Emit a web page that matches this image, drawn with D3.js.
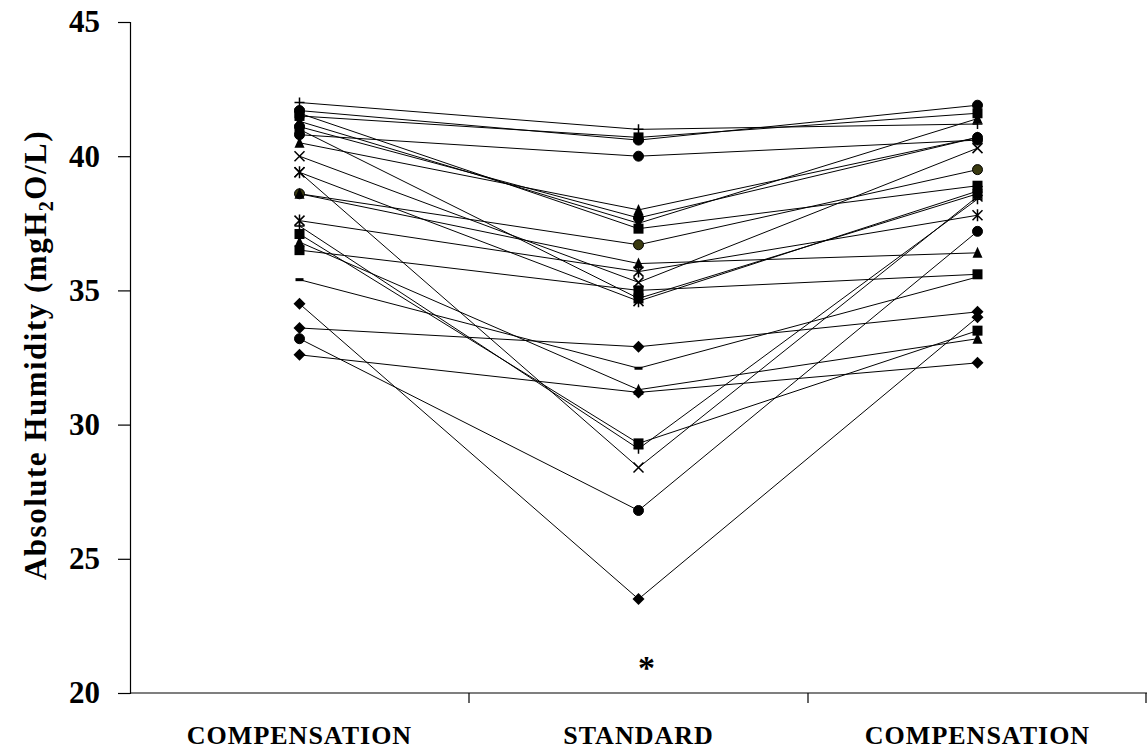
<!DOCTYPE html>
<html>
<head>
<meta charset="utf-8">
<script src="https://cdn.jsdelivr.net/npm/d3@7"></script>
<style>
  body { margin: 0; background: #fff; }
  text { font-family: "Liberation Serif", "Times New Roman", serif; font-weight: bold; }
</style>
</head>
<body>
<svg id="chart" width="1148" height="755"></svg>
<script>
// categories along x
const categories = ['COMPENSATION', 'STANDARD', 'COMPENSATION'];
const yTicks = [20, 25, 30, 35, 40, 45];

// one entry per subject: value in each phase
const compensationBefore = [42.0, 41.7, 41.5, 41.3, 41.1, 40.8, 40.5, 40.0, 39.4, 39.4, 38.6, 41.6, 37.6, 37.4, 37.1, 36.8, 36.5, 35.4, 34.5, 33.6, 33.2, 32.6, 38.6, 41.0];
const standard           = [41.0, 40.6, 40.7, 37.5, 37.7, 40.0, 38.0, 35.3, 28.4, 34.6, 36.7, 37.3, 35.7, 29.1, 29.3, 31.3, 35.0, 32.1, 23.5, 32.9, 26.8, 31.2, 36.0, 34.7];
const compensationAfter  = [41.2, 41.9, 41.6, 41.4, 40.7, 40.6, 40.7, 40.3, 38.5, 38.7, 39.5, 38.9, 37.8, 38.4, 33.5, 33.2, 35.6, 35.5, 34.0, 34.2, 37.2, 32.3, 36.4, 38.6];
const markers            = ['plus', 'circle', 'square', 'triangle', 'circle', 'circle', 'triangle', 'cross', 'cross', 'star', 'circle', 'square', 'star', 'plus', 'square', 'triangle', 'square', 'dash', 'diamond', 'diamond', 'circle', 'diamond', 'triangle', 'square'];
const markerColors       = ['#000', '#000', '#000', '#000', '#000', '#000', '#000', '#000', '#000', '#000', '#3a3a10', '#000', '#000', '#000', '#000', '#000', '#000', '#000', '#000', '#000', '#000', '#000', '#000', '#000'];

const svg = d3.select('#chart');
const margin = { top: 22, right: 1, bottom: 62, left: 130 };
const width = 1148, height = 755;

const x = d3.scaleBand()
    .domain(d3.range(categories.length))
    .range([margin.left, width - margin.right])
    .padding(0);

const y = d3.scaleLinear()
    .domain([20, 45])
    .range([height - margin.bottom, margin.top]);

const cx = i => x(i) + x.bandwidth() / 2;

// y axis
const yAxis = d3.axisLeft(y).tickValues(yTicks).tickSize(12).tickPadding(18);
const gy = svg.append('g')
    .attr('transform', `translate(${margin.left},0)`)
    .call(yAxis);
gy.select('.domain').attr('stroke', '#000').attr('stroke-width', 1.2);
gy.selectAll('.tick line').attr('stroke', '#000').attr('stroke-width', 1.2);
gy.selectAll('.tick text')
    .attr('font-size', 31)
    .attr('fill', '#000')
    .style('font-family', '"Liberation Serif", serif')
    .style('font-weight', 'bold');

// x axis: line with ticks at category boundaries
const y0 = y(20);
svg.append('line')
    .attr('x1', margin.left).attr('x2', width - margin.right)
    .attr('y1', y0).attr('y2', y0)
    .attr('stroke', '#000').attr('stroke-width', 1.2);
const bounds = d3.range(1, categories.length + 1).map(i => i < categories.length ? x(i) : x.range()[1] - 1);
svg.selectAll('.xtick')
    .data(bounds)
    .join('line')
    .attr('class', 'xtick')
    .attr('x1', d => d).attr('x2', d => d)
    .attr('y1', y0).attr('y2', y0 + 10)
    .attr('stroke', '#000').attr('stroke-width', 1.2);
svg.selectAll('.xlabel')
    .data(categories)
    .join('text')
    .attr('class', 'xlabel')
    .attr('x', (d, i) => cx(i))
    .attr('y', 744)
    .attr('text-anchor', 'middle')
    .attr('font-size', 26)
    .attr('letter-spacing', 1)
    .text(d => d);

// y axis title
const title = svg.append('text')
    .attr('transform', 'translate(46,355) rotate(-90)')
    .attr('text-anchor', 'middle')
    .attr('font-size', 31)
    .attr('letter-spacing', 1.5);
title.append('tspan').text('Absolute Humidity (mgH');
title.append('tspan').attr('font-size', 20).attr('dy', 7).text('2');
title.append('tspan').attr('dy', -7).text('O/L)');

// subject lines
const rows = compensationBefore.map((v, i) => ({
    values: [v, standard[i], compensationAfter[i]],
    marker: markers[i],
    color: markerColors[i]
}));

const line = d3.line()
    .x((d, i) => cx(i))
    .y(d => y(d));

svg.append('g').selectAll('path')
    .data(rows)
    .join('path')
    .attr('d', d => line(d.values))
    .attr('fill', 'none')
    .attr('stroke', '#000')
    .attr('stroke-width', 1);

// marker drawing
function drawMarker(g, type, color) {
    const s = 5;
    if (type === 'circle') {
        g.append('circle').attr('r', s).attr('fill', color).attr('stroke', '#000');
    } else if (type === 'square') {
        g.append('rect').attr('x', -s).attr('y', -s).attr('width', 2 * s).attr('height', 2 * s).attr('fill', color);
    } else if (type === 'triangle') {
        g.append('path').attr('d', `M0,${-s - 1}L${s},${s}L${-s},${s}Z`).attr('fill', color);
    } else if (type === 'diamond') {
        g.append('path').attr('d', `M0,${-s - 1}L${s + 1},0L0,${s + 1}L${-s - 1},0Z`).attr('fill', color);
    } else if (type === 'plus') {
        g.append('path').attr('d', `M${-s},0H${s}M0,${-s}V${s}`).attr('stroke', color).attr('stroke-width', 1.5);
    } else if (type === 'cross') {
        g.append('path').attr('d', `M${-s},${-s}L${s},${s}M${-s},${s}L${s},${-s}`).attr('stroke', color).attr('stroke-width', 1.5);
    } else if (type === 'star') {
        g.append('path').attr('d', `M${-s},${-s}L${s},${s}M${-s},${s}L${s},${-s}M0,${-s - 1}V${s + 1}`).attr('stroke', color).attr('stroke-width', 1.5);
    } else if (type === 'dash') {
        g.append('path').attr('d', `M${-s + 1},0H${s - 1}`).attr('stroke', color).attr('stroke-width', 3);
    }
}

const pts = svg.append('g');
rows.forEach(r => {
    r.values.forEach((v, i) => {
        const g = pts.append('g').attr('transform', `translate(${cx(i)},${y(v)})`);
        drawMarker(g, r.marker, r.color);
    });
});

// significance mark under the standard phase
svg.append('text')
    .attr('x', cx(1) + 8)
    .attr('y', y(21.1) + 16)
    .attr('text-anchor', 'middle')
    .attr('font-size', 34)
    .text('*');
</script>
</body>
</html>
